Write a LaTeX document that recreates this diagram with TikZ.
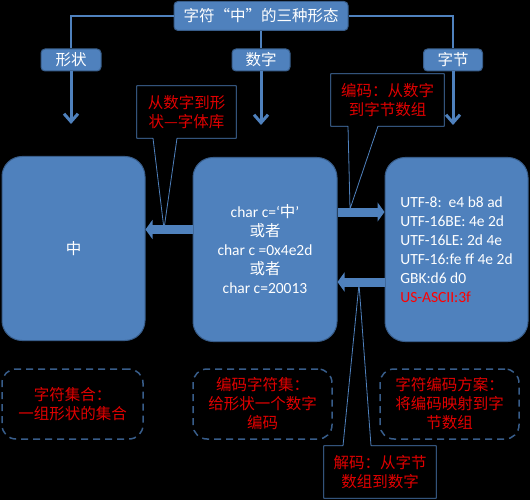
\documentclass[tikz,border=0pt]{standalone}
\usepackage{fontspec}
\setmainfont{Carlito}
\newfontfamily\cjk{Noto Sans CJK SC}
\usetikzlibrary{arrows.meta,calc}
\definecolor{officeblue}{HTML}{4F81BD}
\definecolor{officeedge}{HTML}{385D8A}
\definecolor{notered}{HTML}{E00000}
\newcommand{\zhfont}{\cjk\fontsize{15.5}{19}\selectfont}
\newcommand{\enfont}{\fontsize{15.5}{19}\selectfont}

\begin{document}
\begin{tikzpicture}[x=1pt,y=-1pt,
    labelbox/.style={draw=officeedge,line width=1pt,fill=officeblue,text=white,
      rounded corners=4pt,minimum height=22pt,font=\zhfont},
    bigbox/.style={draw=officeedge,line width=1pt,fill=officeblue,text=white,
      rounded corners=20pt,minimum width=143pt,minimum height=184pt,font=\enfont},
    notebox/.style={draw=officeedge,line width=1.5pt,dash pattern=on 7pt off 5pt,
      rounded corners=14pt,minimum width=139pt,minimum height=70pt,align=center,
      text=notered,font=\zhfont},
    calltext/.style={minimum height=52pt,align=center,text=notered,font=\zhfont},
    callline/.style={draw=officeblue,line width=0.8pt,line join=round},
    link/.style={officeblue,line width=2pt},
    downarrow/.style={officeblue,line width=3pt,-{Straight Barb[length=8pt,width=14pt]},shorten >=32pt},
    blockarrow/.style={officeblue,line width=9pt,-{Triangle[length=7pt,width=19pt]}},
  ]
  \fill[black] (0,0) rectangle (530,500);
  \useasboundingbox (0,0) rectangle (530,500);

  % top row
  \node[labelbox,minimum width=174pt,minimum height=29pt] (title) at (261,16) {字符“中”的三种形态};
  \node[labelbox,minimum width=60pt] (shapelabel) at (71,60) {形状};
  \node[labelbox,minimum width=58pt] (numlabel) at (261,60) {数字};
  \node[labelbox,minimum width=59pt] (bytelabel) at (453,60) {字节};
  \draw[link] (title.west) -| (shapelabel.north);
  \draw[link] (title.south) -- (numlabel.north);
  \draw[link] (title.east) -| (bytelabel.north);

  % three forms
  \node[bigbox,font=\zhfont] (shapebox) at (73.5,248.5) {中};
  \node[bigbox,minimum width=144pt,align=center] (numbox) at (265,249.5)
    {char c=‘{\cjk 中}’\\{\cjk 或者}\\char c =0x4e2d\\{\cjk 或者}\\char c=20013};
  \node[bigbox,align=left] (bytebox) at (456.5,249.5)
    {UTF-8:\ \ e4 b8 ad\\UTF-16BE: 4e 2d\\UTF-16LE: 2d 4e\\UTF-16:fe ff 4e 2d\\GBK:d6 d0\\
     \textcolor{red}{US-ASCII:3f}};

  \draw[downarrow] (shapelabel.south) -- (shapelabel.south |- shapebox.north);
  \draw[downarrow] (numlabel.south) -- (numlabel.south |- numbox.north);
  \draw[downarrow] (bytelabel.south) -- (bytelabel.south |- bytebox.north);

  \draw[blockarrow] ([yshift=20pt]numbox.west) -- ([yshift=20pt]numbox.west -| shapebox.east);
  \draw[blockarrow] ([yshift=37.5pt]numbox.east) -- ([yshift=37.5pt]numbox.east -| bytebox.west);
  \draw[blockarrow] ([yshift=-32.5pt]bytebox.west) -- ([yshift=-32.5pt]bytebox.west -| numbox.east);

  % callouts
  \coordinate (tipA) at (164,229);
  \coordinate (tipB) at (350,209);
  \coordinate (tipC) at (359,284);
  \node[calltext,minimum width=99pt] (decA) at (186.5,112) {从数字到形\\状—字体库};
  \node[calltext,minimum width=113pt] (decB) at (387.5,100) {编码：从数字\\到字节数组};
  \node[calltext,minimum width=112pt] (decC) at (380,472) {解码：从字节\\数组到数字};
  \draw[callline] (tipA) -- ([xshift=-11pt]tipA |- decA.south) -| (decA.north west)
    -| (decA.south east) -- ([xshift=13pt]tipA |- decA.south) -- cycle;
  \draw[callline] (tipB) -- ([xshift=-2pt]tipB |- decB.south) -| (decB.north west)
    -| (decB.south east) -- ([xshift=28pt]tipB |- decB.south) -- cycle;
  \draw[callline] (tipC) -- ([xshift=-16pt]tipC |- decC.north) -| (decC.south west)
    -| (decC.north east) -- ([xshift=12pt]tipC |- decC.north) -- cycle;

  % notes
  \node[notebox,minimum width=141pt] (noteA) at (72.5,404) {字符集合：\\一组形状的集合};
  \node[notebox] (noteB) at (262.5,404) {编码字符集：\\给形状一个数字\\编码};
  \node[notebox] (noteC) at (449.5,404) {字符编码方案：\\将编码映射到字\\节数组};
\end{tikzpicture}
\end{document}
